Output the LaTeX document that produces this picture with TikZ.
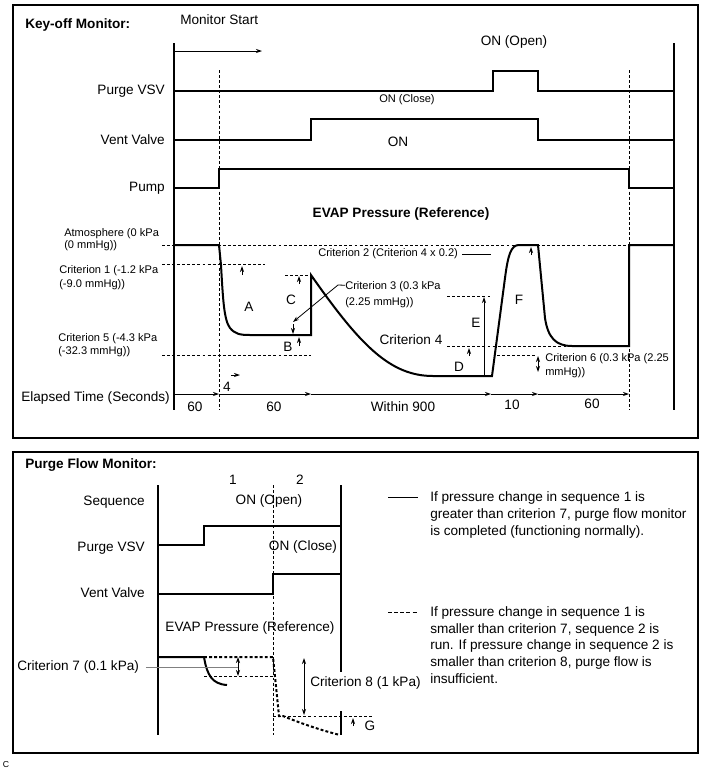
\documentclass[tikz,border=0pt]{standalone}
\usepackage{fontspec}
\setmainfont{Liberation Sans}
\usetikzlibrary{positioning,arrows.meta}

\begin{document}
\begin{tikzpicture}[x=0.75pt,y=-0.75pt,>={Stealth[length=4.5pt,width=3pt]},
  txt/.style={inner sep=0pt,font=\fontsize{10.2}{12}\selectfont},
  sm/.style={inner sep=0pt,font=\fontsize{8.3}{10}\selectfont,align=left},
  hd/.style={inner sep=0pt,font=\fontsize{10.2}{12}\selectfont\bfseries},
  heavy/.style={line width=2.2pt},
  midline/.style={line width=1.5pt},
  fine/.style={line width=0.6pt},
  guide/.style={line width=0.6pt,dash pattern=on 2.2pt off 1.6pt},
  dotcurve/.style={line width=1.5pt,dash pattern=on 2.2pt off 1.6pt}]
\useasboundingbox (0,0) rectangle (714,772);

% ---------- Key-off monitor ----------
\draw[midline] (13,5) rectangle (698,438);
\node[hd,anchor=west] (kom) at (25,25) {Key-off Monitor:};
\node[txt,anchor=west] (mstart) at (180,20) {Monitor Start};
\draw[->,fine] (174,51) -- (262,51);

\draw[midline] (174,43) -- (174,410);
\draw[midline] (674,43) -- (674,410);
\draw[guide] (219,70) -- (219,410);
\draw[guide] (629,70) -- (629,410);

\node[txt,anchor=east] (lvsv) at (165,91) {Purge VSV};
\node[txt,anchor=east] (lvent) at (165,140) {Vent Valve};
\node[txt,anchor=east] (lpump) at (165,188) {Pump};
\node[txt] (onopen) at (514,42) {ON (Open)};
\node[sm] (onclose) at (407,100) {ON (Close)};
\node[txt] (onvent) at (398,142) {ON};
\node[hd] (evap) at (401,214) {EVAP Pressure (Reference)};

\draw[heavy] (174,91) -- (493,91) -- (493,71) -- (538,71) -- (538,91) -- (674,91);
\draw[midline] (174,140) -- (311,140) -- (311,119) -- (538,119) -- (538,140) -- (674,140);
\draw[heavy] (174,188) -- (219,188) -- (219,169) -- (629,169) -- (629,188) -- (674,188);

% pressure levels
\draw[guide] (162,245) -- (629,245);
\draw[guide] (162,264) -- (265,264);
\draw[guide] (162,355) -- (311,355);
\draw[guide] (285,275) -- (309,275);
\draw[guide] (447,296) -- (492,296);
\draw[guide] (447,346) -- (629,346);
\draw[guide] (497,355) -- (535,355);

\draw[midline] (174,245) -- (219,245) -- (221,265)
  .. controls (223,300) and (224,320) .. (230,328)
  .. controls (235,334) and (240,335) .. (250,335) -- (311,335) -- (311,275)
  .. controls (360,345) and (390,376) .. (433,376) -- (492,376) -- (505,278)
  .. controls (508,255) and (511,245) .. (519,245) -- (538,245) -- (545,318)
  .. controls (548,338) and (556,346) .. (572,346) -- (629,346) -- (629,245) -- (674,245);

\node[sm,anchor=base west,font=\fontsize{8.3}{8.7}\selectfont] (atm) at (64,248) {Atmosphere (0 kPa\\(0 mmHg))};
\node[sm,anchor=base west] (cr1) at (59,287) {Criterion 1 (-1.2 kPa\\(-9.0 mmHg))};
\node[sm,anchor=base west,font=\fontsize{8.3}{9.3}\selectfont] (cr5) at (58,354) {Criterion 5 (-4.3 kPa\\(-32.3 mmHg))};
\node[sm,anchor=west] (cr2) at (318,254) {Criterion 2 (Criterion 4 x 0.2)};
\node[sm,anchor=base west,font=\fontsize{8.3}{12}\selectfont] (cr3) at (345,305) {Criterion 3 (0.3 kPa\\(2.25 mmHg))};
\node[txt] (cr4) at (411,340) {Criterion 4};
\node[sm,anchor=base west] (cr6) at (545,375) {Criterion 6 (0.3 kPa (2.25\\mmHg))};

\node[txt] (la) at (249,307) {A};
\node[txt] (lb) at (288,347) {B};
\node[txt] (lc) at (291,300) {C};
\node[txt] (ld) at (459,367) {D};
\node[txt] (le) at (476,323) {E};
\node[txt] (lf) at (519,300) {F};

\coordinate (c2end) at (491,254);
\coordinate (c3bend) at (338,285);
\coordinate (c3tip) at (293,322);
\draw[fine] ([xshift=3pt]cr2.east) -- (c2end);
\draw[fine] ([yshift=-3.4pt]cr3.north west) -- (c3bend);
\draw[->,fine] (c3bend) -- (c3tip);

\draw[->,fine] (242,275) -- (242,266);
\draw[->,fine] (299,284) -- (299,276);
\draw[->,fine] (293,324) -- (293,334);
\draw[->,fine] (299,346) -- (299,337);
\draw[->,fine] (484,376) -- (484,297);
\draw[->,fine] (469,356) -- (469,348);
\draw[->,fine] (531,255) -- (531,247);
\draw[<->,fine] (538,356) -- (538,372);

% elapsed time
\node[txt,anchor=east] (elapsed) at (170,398) {Elapsed Time (Seconds)};
\foreach \a/\b in {174/219,219/311,311/491,491/538,538/629}
  \draw[->,fine] (\a,394) -- (\b,394);
\draw[->,fine] (231,375) -- (240,375);
\node[txt] (four) at (227,387) {4};
\node[txt] (t1) at (195,407) {60};
\node[txt] (t2) at (274,407) {60};
\node[txt] (t3) at (403,407) {Within 900};
\node[txt] (t4) at (512,405) {10};
\node[txt] (t5) at (592,404) {60};

% ---------- Purge flow monitor ----------
\draw[midline] (13,452) rectangle (698,753);
\node[hd,anchor=west] (pfm) at (25,465) {Purge Flow Monitor:};

\draw[midline] (158,485) -- (158,735);
\draw[midline] (341,485) -- (341,672);
\draw[midline] (341,711) -- (341,735);
\draw[guide] (273,485) -- (273,735);

\node[txt,anchor=east] (seq) at (145,502) {Sequence};
\node[txt,anchor=east] (pvsv) at (145,548) {Purge VSV};
\node[txt,anchor=east] (pvent) at (145,593) {Vent Valve};
\node[txt] (s1) at (233,480) {1};
\node[txt] (s2) at (300,480) {2};
\node[txt] (pon) at (269,501) {ON (Open)};
\node[txt] (pclose) at (303,547) {ON (Close)};
\node[txt] (pevap) at (250,628) {EVAP Pressure (Reference)};

\draw[heavy] (158,545) -- (204,545);
\draw[midline] (204,546) -- (204,526) -- (341,526);
\draw[midline] (158,594) -- (273,594) -- (273,574) -- (341,574);

\draw[midline] (158,657) -- (204,657)
  .. controls (207,675) and (212,684) .. (227,685);
\draw[dotcurve] (204,657) -- (273,657) -- (279,716) -- (283,716)
  .. controls (300,723) and (320,730) .. (340,735);
\draw[guide] (204,676) -- (273,676);
\draw[guide] (273,716) -- (373,716);

\node[txt,anchor=west] (cr7) at (17,667) {Criterion 7 (0.1 kPa)};
\coordinate (c7) at (238,667);
\draw[fine,gray] ([xshift=5pt]cr7.east) -- (c7);
\draw[<->,fine] (238,657) -- (238,676);
\draw[<->,fine] (304,658) -- (304,715);
\node[txt,anchor=west] (cr8) at (310,683) {Criterion 8 (1 kPa)};
\draw[->,fine] (353,726) -- (353,718);
\node[txt] (lg) at (370,726) {G};

% legend
\node[txt,anchor=base west,align=left,font=\fontsize{10.2}{12.4}\selectfont] (lgsolid) at (430,535)
  {If pressure change in sequence 1 is\\greater than criterion 7, purge flow monitor\\is completed (functioning normally).};
\node[txt,anchor=base west,align=left,font=\fontsize{10.2}{12.4}\selectfont] (lgdash) at (430,683)
  {If pressure change in sequence 1 is\\smaller than criterion 7, sequence 2 is\\run. If pressure change in sequence 2 is\\smaller than criterion 8, purge flow is\\insufficient.};
\coordinate (lgs) at (388,497);
\coordinate (lgd) at (388,612);
\draw[fine] (lgs) -- ++(30,0);
\draw[fine,dash pattern=on 3pt off 1.6pt] (lgd) -- ++(30,0);

\node[inner sep=0pt,font=\fontsize{6.5}{7}\selectfont] (cmark) at (6,765) {C};
\end{tikzpicture}
\end{document}
